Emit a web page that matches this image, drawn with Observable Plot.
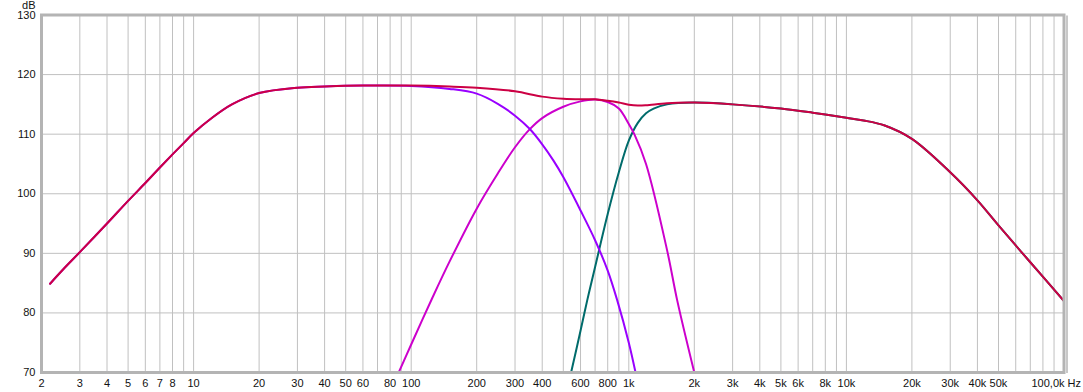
<!DOCTYPE html>
<html>
<head>
<meta charset="utf-8">
<script src="https://cdn.jsdelivr.net/npm/d3@7"></script>
<script src="https://cdn.jsdelivr.net/npm/@observablehq/plot@0.6"></script>
<style>
  html, body { margin: 0; padding: 0; background: #ffffff; }
  #chart { width: 1083px; height: 392px; }
</style>
</head>
<body>
<div id="chart"></div>
<script>
// ---- axis / grid data ----
const yTicks = [70, 80, 90, 100, 110, 120, 130];
const gridFreqs = [
  2, 3, 4, 5, 6, 7, 8, 9,
  10, 20, 30, 40, 50, 60, 70, 80, 90,
  100, 200, 300, 400, 500, 600, 700, 800, 900,
  1000, 2000, 3000, 4000, 5000, 6000, 7000, 8000, 9000,
  10000, 20000, 30000, 40000, 50000, 60000, 70000, 80000, 90000,
  100000
];
const xLabelFreqs = [2, 3, 4, 5, 6, 7, 8, 10, 20, 30, 40, 50, 60, 80, 100, 200, 300, 400, 600, 800,
  1000, 2000, 3000, 4000, 5000, 6000, 8000, 10000, 20000, 30000, 40000, 50000];
const xLabelTexts = ["2", "3", "4", "5", "6", "7", "8", "10", "20", "30", "40", "50", "60", "80", "100", "200", "300", "400", "600", "800",
  "1k", "2k", "3k", "4k", "5k", "6k", "8k", "10k", "20k", "30k", "40k", "50k"];
const lastLabelFreq = [100000];
const lastLabelText = ["100,0k Hz"];

// ---- series (frequency in Hz, level in dB) ----
const sumFreq = [2.19, 2.5, 3, 4, 5, 6, 7, 8, 9, 10, 12, 15, 20, 30, 40, 60, 100, 150, 200, 300, 400, 500, 600, 700, 800, 900, 1000, 1100, 1200, 1500, 2000, 3000, 5000, 7000, 10000, 12000, 15000, 20000, 30000, 40000, 50000, 70000, 100000];
const sumDb   = [84.9, 87.2, 90.2, 95.0, 98.8, 101.8, 104.4, 106.6, 108.5, 110.2, 112.6, 115.0, 116.9, 117.8, 118.0, 118.15, 118.15, 118.0, 117.8, 117.2, 116.3, 115.95, 115.85, 115.85, 115.6, 115.3, 114.95, 114.8, 114.85, 115.2, 115.3, 115.0, 114.3, 113.6, 112.75, 112.3, 111.45, 109.2, 103.6, 98.9, 94.7, 88.5, 82.0];

const wooferFreq = [2.19, 2.5, 3, 4, 5, 6, 7, 8, 9, 10, 12, 15, 20, 30, 40, 60, 100, 150, 200, 250, 300, 350, 400, 450, 500, 600, 700, 800, 885, 1000, 1074];
const wooferDb   = [84.9, 87.2, 90.2, 95.0, 98.8, 101.8, 104.4, 106.6, 108.5, 110.2, 112.6, 115.0, 116.9, 117.8, 118.0, 118.15, 118.1, 117.6, 116.8, 115.1, 113.1, 110.9, 108.3, 105.6, 102.8, 97.2, 92.2, 87.1, 82.1, 75.0, 70.0];

const midFreq = [87.6, 100, 125, 150, 200, 250, 300, 350, 400, 500, 600, 700, 800, 900, 1000, 1060, 1200, 1500, 1669, 2000];
const midDb   = [70.0, 74.7, 82.5, 88.6, 97.5, 103.4, 107.8, 110.8, 112.7, 114.6, 115.5, 115.8, 115.4, 114.3, 111.7, 110.0, 105.0, 90.5, 82.1, 70.0];

const tweeterFreq = [543, 600, 644, 700, 800, 900, 1000, 1100, 1200, 1300, 1500, 2000, 3000, 5000, 7000, 10000, 12000, 15000, 20000, 30000, 40000, 50000, 70000, 100000];
const tweeterDb   = [70.0, 77.0, 82.1, 87.7, 96.6, 103.6, 108.9, 111.9, 113.5, 114.3, 115.0, 115.3, 115.0, 114.3, 113.6, 112.75, 112.3, 111.45, 109.2, 103.6, 98.9, 94.7, 88.5, 82.0];

const colors = { sum: "#cc0044", woofer: "#9900ff", mid: "#cc00cc", tweeter: "#006b6b" };

const toRows = (fs, ds) => fs.map((f, i) => ({ f, db: ds[i] }));
const sumRows = toRows(sumFreq, sumDb);
const wooferRows = toRows(wooferFreq, wooferDb);
const midRows = toRows(midFreq, midDb);
const tweeterRows = toRows(tweeterFreq, tweeterDb);
const xLabelRows = xLabelFreqs.map((f, i) => ({ f, t: xLabelTexts[i] }));
const lastRows = lastLabelFreq.map((f, i) => ({ f, t: lastLabelText[i] }));

const chart = Plot.plot({
  width: 1083,
  height: 392,
  marginLeft: 41,
  marginRight: 19.5,
  marginTop: 14.5,
  marginBottom: 20,
  style: { fontFamily: "'Liberation Sans', Arial, sans-serif", fontSize: "11px", color: "#111", background: "#fff" },
  x: { type: "log", domain: [2, 100000], axis: null },
  y: { domain: [70, 130] },
  marks: [
    Plot.ruleX(gridFreqs, { stroke: "#c0c0c0", strokeWidth: 1 }),
    Plot.ruleY(yTicks, { stroke: "#c0c0c0", strokeWidth: 1 }),
    Plot.line(tweeterRows, { x: "f", y: "db", stroke: colors.tweeter, strokeWidth: 2, curve: "catmull-rom", clip: true }),
    Plot.line(midRows, { x: "f", y: "db", stroke: colors.mid, strokeWidth: 2, curve: "catmull-rom", clip: true }),
    Plot.line(wooferRows, { x: "f", y: "db", stroke: colors.woofer, strokeWidth: 2, curve: "catmull-rom", clip: true }),
    Plot.line(sumRows, { x: "f", y: "db", stroke: colors.sum, strokeWidth: 2, curve: "catmull-rom", clip: true }),
    Plot.frame({ stroke: "#b4b4b4", strokeWidth: 3 }),
    Plot.ruleX([100000], { stroke: "#c8c8c8", strokeWidth: 2, dx: 3, y1: 70, y2: 130, dy: 1 }),
    Plot.axisY({ ticks: yTicks, tickSize: 0, tickPadding: 6, label: null, fill: "#111" }),
    Plot.text(["dB"], { frameAnchor: "top-left", lineAnchor: "middle", dx: -6, dy: -10, textAnchor: "end", fill: "#111" }),
    Plot.text(xLabelRows, { x: "f", text: "t", frameAnchor: "bottom", lineAnchor: "middle", dy: 10.5, fill: "#111" }),
    Plot.text(lastRows, { x: "f", text: "t", frameAnchor: "bottom", lineAnchor: "middle", dy: 10.5, textAnchor: "end", dx: 17, fill: "#111" })
  ]
});
document.getElementById("chart").appendChild(chart);
</script>
</body>
</html>
